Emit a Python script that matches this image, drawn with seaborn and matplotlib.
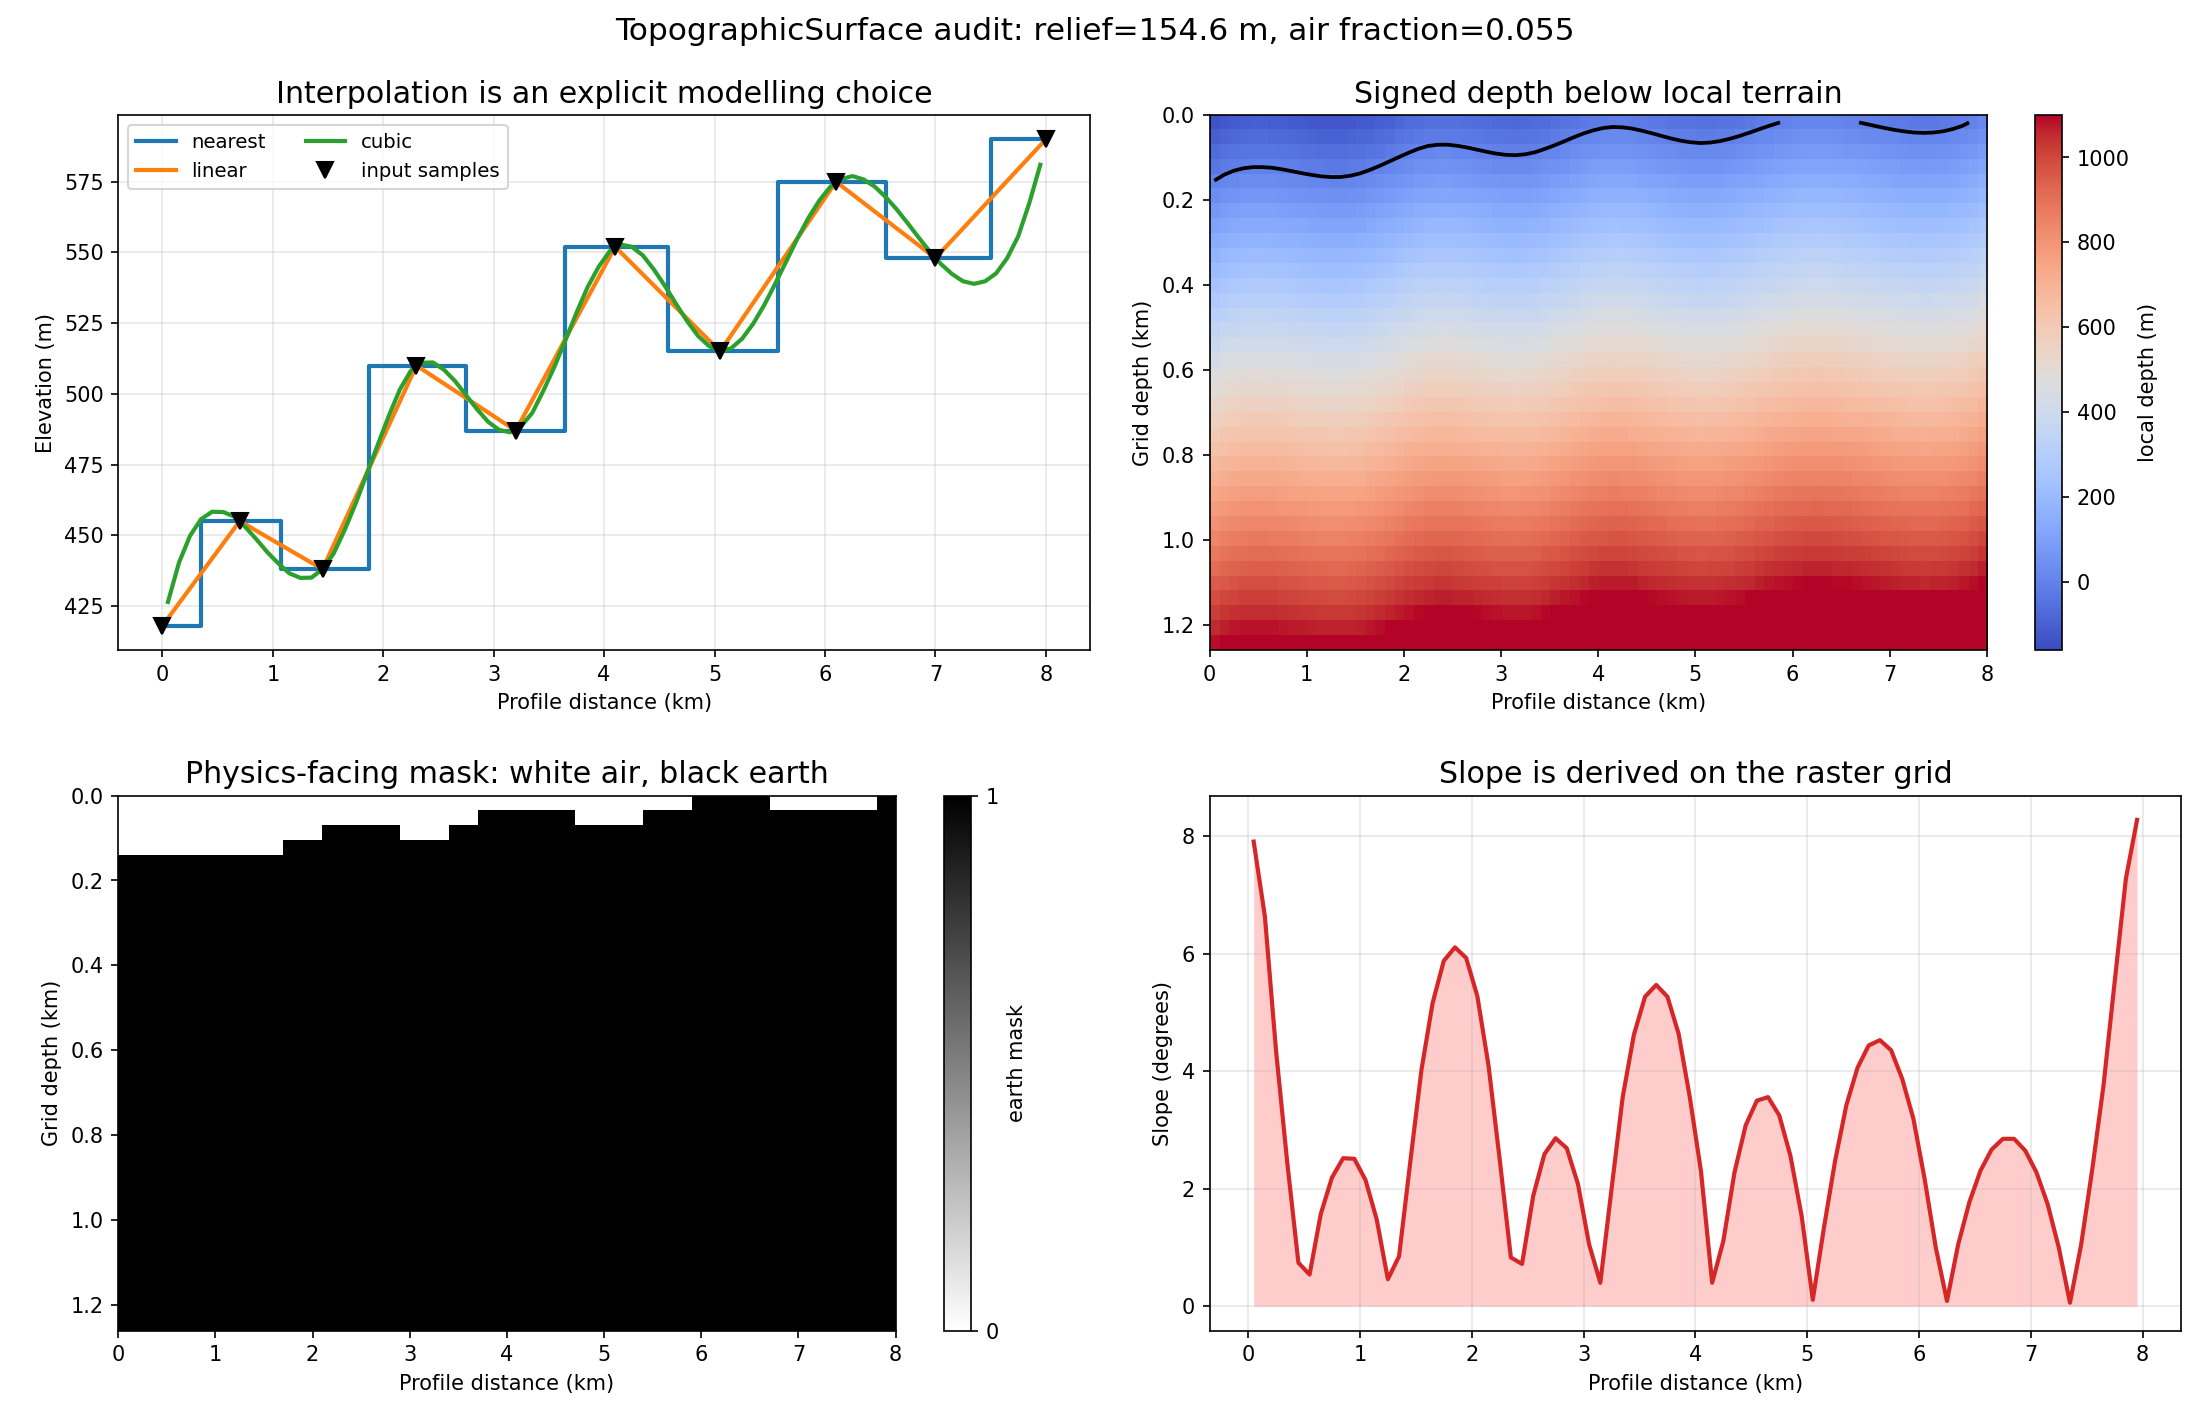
import numpy as np
import matplotlib
matplotlib.use("Agg")
import matplotlib.pyplot as plt
import seaborn as sns

# ── Survey samples along the profile ───────────────────────────────────────
sample_km = [0.0, 0.7, 1.45, 2.3, 3.2, 4.1, 5.05, 6.1, 7.0, 8.0]
sample_elev = [418, 455, 438, 510, 487, 552, 515, 575, 548, 590]

# ── Raster grid: 80 columns of 0.1 km, 36 rows of 35 m ─────────────────────
n_cols, n_rows = 80, 36
col_km = np.round(0.05 + 0.1 * np.arange(n_cols), 2)
row_depth_m = 17.5 + 35.0 * np.arange(n_rows)
grid_bottom_km = 1.26

# cubic surface on the column centres (m)
cubic_elev = [
    426.4, 440.3, 449.8, 455.7, 458.3, 458.2, 456.6, 452.9, 448.6, 444.0,
    440.0, 436.5, 434.9, 435.0, 438.0, 443.5, 451.8, 461.2, 471.6, 482.0,
    492.2, 501.5, 508.2, 511.0, 511.1, 508.5, 504.5, 499.5, 494.5, 490.1,
    487.2, 486.4, 488.6, 493.3, 501.1, 509.6, 519.0, 528.7, 537.7, 544.9,
    550.4, 552.8, 552.0, 549.0, 544.0, 538.2, 531.9, 525.8, 520.5, 516.9,
    515.0, 516.1, 519.5, 524.8, 531.4, 539.0, 546.9, 554.9, 562.2, 568.4,
    573.3, 576.0, 577.0, 575.8, 573.3, 569.6, 565.2, 560.3, 555.2, 550.3,
    545.9, 542.4, 539.8, 538.9, 539.8, 542.6, 548.0, 555.7, 567.4, 581.0,
]

# slope on the raster grid (degrees)
slope_deg = [
    7.91, 6.64, 4.35, 2.45, 0.74, 0.54, 1.57, 2.19, 2.52, 2.51,
    2.15, 1.48, 0.46, 0.85, 2.45, 4.02, 5.16, 5.88, 6.11, 5.93,
    5.28, 4.10, 2.50, 0.83, 0.72, 1.88, 2.59, 2.86, 2.69, 2.08,
    1.05, 0.40, 1.99, 3.56, 4.62, 5.27, 5.47, 5.27, 4.64, 3.56,
    2.30, 0.40, 1.11, 2.28, 3.08, 3.50, 3.56, 3.25, 2.56, 1.54,
    0.11, 1.34, 2.48, 3.42, 4.06, 4.44, 4.53, 4.36, 3.87, 3.19,
    2.17, 1.00, 0.09, 1.05, 1.77, 2.31, 2.67, 2.85, 2.85, 2.65,
    2.28, 1.74, 1.00, 0.06, 1.05, 2.34, 3.76, 5.53, 7.28, 8.28,
]

# ── Derived raster fields ──────────────────────────────────────────────────
cubic = np.array(cubic_elev)
top = cubic.max()
relief = top - cubic.min()
terrain_depth_m = top - cubic
local_depth = row_depth_m[:, None] - terrain_depth_m[None, :]
earth = (local_depth > 0).astype(float)
air_fraction = 1.0 - earth.mean()

extent = [0, 8, grid_bottom_km, 0]

fig, axes = plt.subplots(2, 2, figsize=(14.6, 9.447), dpi=150)
fig.subplots_adjust(left=0.054, right=0.996, bottom=0.061, top=0.9188,
                    wspace=0.123, hspace=0.272)
title_fs = 14.4

# ── 1. Interpolation choices ───────────────────────────────────────────────
ax = axes[0, 0]
sns.lineplot(x=sample_km, y=sample_elev, ax=ax, color="tab:blue", lw=2,
             drawstyle="steps-mid", label="nearest")
sns.lineplot(x=sample_km, y=sample_elev, ax=ax, color="tab:orange", lw=2,
             label="linear")
sns.lineplot(x=col_km, y=cubic_elev, ax=ax, color="tab:green", lw=2,
             label="cubic")
ax.plot(sample_km, sample_elev, "v", color="black", ms=8, ls="none",
        label="input samples", zorder=5)
ax.grid(alpha=0.3)
ax.set_title("Interpolation is an explicit modelling choice", fontsize=title_fs)
ax.set_xlabel("Profile distance (km)")
ax.set_ylabel("Elevation (m)")
ax.legend(ncol=2, loc="upper left", fontsize=9.5)

# ── 2. Signed depth below terrain ──────────────────────────────────────────
ax = axes[0, 1]
im = ax.imshow(local_depth, cmap="coolwarm", vmin=-160, vmax=1100,
               extent=extent, aspect="auto", interpolation="nearest")
ax.contour(col_km, row_depth_m / 1000.0, local_depth, levels=[0],
           colors="black", linewidths=1.8)
ax.set_xlim(0, 8)
ax.set_ylim(grid_bottom_km, 0)
cb = fig.colorbar(im, ax=ax)
cb.set_label("local depth (m)")
ax.set_title("Signed depth below local terrain", fontsize=title_fs)
ax.set_xlabel("Profile distance (km)")
ax.set_ylabel("Grid depth (km)")

# ── 3. Earth mask ──────────────────────────────────────────────────────────
ax = axes[1, 0]
im2 = ax.imshow(earth, cmap="gray_r", vmin=0, vmax=1, extent=extent,
                aspect="auto", interpolation="nearest")
ax.set_xlim(0, 8)
ax.set_ylim(grid_bottom_km, 0)
cb2 = fig.colorbar(im2, ax=ax, ticks=[0, 1])
cb2.set_label("earth mask")
ax.set_title("Physics-facing mask: white air, black earth", fontsize=title_fs)
ax.set_xlabel("Profile distance (km)")
ax.set_ylabel("Grid depth (km)")

# ── 4. Slope ───────────────────────────────────────────────────────────────
ax = axes[1, 1]
ax.fill_between(col_km, 0, slope_deg, color="red", alpha=0.2, lw=0)
sns.lineplot(x=col_km, y=slope_deg, ax=ax, color="tab:red", lw=2)
ax.grid(alpha=0.3)
ax.set_title("Slope is derived on the raster grid", fontsize=title_fs)
ax.set_xlabel("Profile distance (km)")
ax.set_ylabel("Slope (degrees)")

fig.suptitle(f"TopographicSurface audit: relief={relief:.1f} m, "
             f"air fraction={air_fraction:.3f}", fontsize=15, y=0.988)
fig.savefig("out.png", dpi=150)
